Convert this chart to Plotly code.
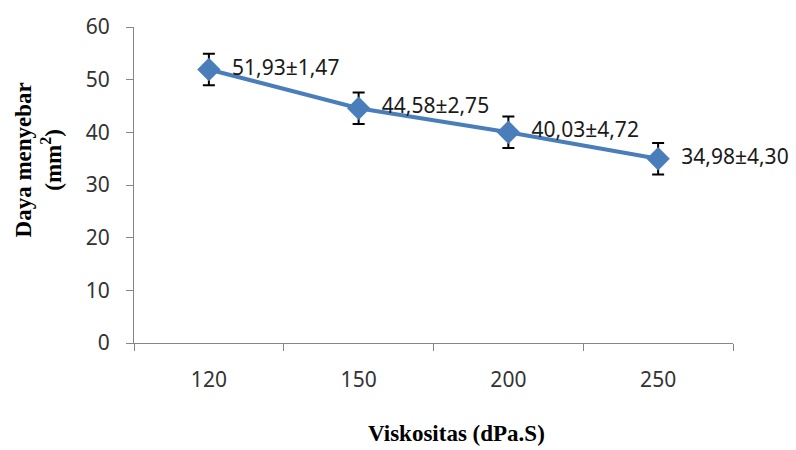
import plotly.graph_objects as go

categories = ["120", "150", "200", "250"]
values = [51.93, 44.58, 40.03, 34.98]
sd_labels = ["1,47", "2,75", "4,72", "4,30"]
error_bars = [3, 3, 3, 3]
y_ticks = [0, 10, 20, 30, 40, 50, 60]

labels = ["  " + f"{v:.2f}".replace(".", ",") + "±" + s for v, s in zip(values, sd_labels)]

fig = go.Figure()
fig.add_trace(go.Scatter(
    x=categories, y=values,
    mode="lines+markers+text",
    line=dict(color="#4A7EBB", width=4),
    marker=dict(symbol="diamond", size=18, color="#4A7EBB"),
    error_y=dict(type="data", array=error_bars, visible=True,
                 color="#000000", thickness=2, width=6),
    text=labels, textposition="middle right",
    textfont=dict(family="Noto Sans", size=21, color="#1a1a1a"),
    cliponaxis=False,
    showlegend=False,
))

axis_font = dict(family="Noto Sans", size=21, color="#333333")
fig.update_layout(
    width=796, height=450,
    margin=dict(l=134, r=63, t=21, b=107),
    paper_bgcolor="white", plot_bgcolor="white",
    xaxis=dict(
        type="category", showgrid=False, showline=True, linecolor="#868686", linewidth=1,
        ticks="outside", tickson="boundaries", ticklen=7, tickcolor="#868686",
        tickfont=axis_font, ticklabelstandoff=18, range=[-0.5, 3.5],
    ),
    yaxis=dict(
        range=[0, 60], tickvals=y_ticks, showgrid=False, zeroline=False,
        showline=True, linecolor="#868686", linewidth=1,
        ticks="outside", ticklen=7, tickcolor="#868686",
        tickfont=axis_font, ticklabelstandoff=12,
    ),
    annotations=[
        dict(text="<b>Daya menyebar<br>(mm<sup>2</sup>)</b>", xref="paper", yref="paper",
             x=-0.159, y=0.58, xanchor="center", yanchor="middle", textangle=-90,
             showarrow=False,
             font=dict(family="Liberation Serif", size=23, color="#000000")),
        dict(text="<b>Viskositas (dPa.S)</b>", xref="paper", yref="paper",
             x=0.539, y=-0.286, xanchor="center", yanchor="middle",
             showarrow=False,
             font=dict(family="Liberation Serif", size=23, color="#000000")),
    ],
)

fig.write_html("out.html")
